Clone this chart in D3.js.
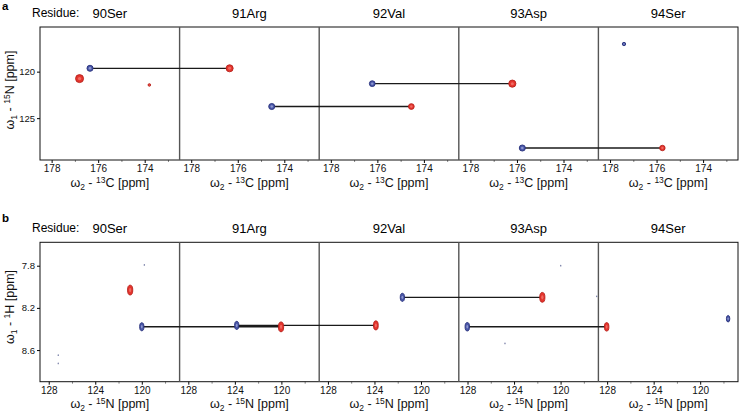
<!DOCTYPE html>
<html><head><meta charset="utf-8">
<script src="https://cdn.jsdelivr.net/npm/d3@7"></script>
<style>body{margin:0;background:#fff}svg{display:block;font-family:"Liberation Sans",Arial,Helvetica,sans-serif}</style>
</head><body><script>
// ---------- data ----------
const residues = ["90Ser", "91Arg", "92Val", "93Asp", "94Ser"];
const panelLetters = ["a", "b"];
const cTicks = [178, 176, 174];
const cMinor = [177, 175, 173];
const nTicksTop = [120, 125];
const nTicksBottom = [128, 124, 120];
const nMinorBottom = [126, 122, 118];
const hTicks = [7.8, 8.2, 8.6];

// panel a : 13C (w2) vs 15N (w1); red = HNCO, blue = HN(CA)CO
// [strip, 13C ppm, 15N ppm, intensity]
const redA = [[0, 176.8, 120.75, 1.0], [0, 173.8, 121.43, 0.32], [1, 176.35, 119.64, 0.88],
              [2, 174.54, 123.75, 0.72], [3, 176.2, 121.29, 0.9], [4, 175.75, 128.21, 0.68]];
const blueA = [[0, 176.35, 119.64, 0.76], [1, 174.54, 123.75, 0.76], [2, 176.22, 121.29, 0.72],
               [3, 175.77, 128.21, 0.76], [4, 177.4, 117.03, 0.42]];
// connectivity: blue peak index -> red peak index
const linksA = [[0, 2], [1, 3], [2, 4], [3, 5]];

// panel b : 15N (w2) vs 1H (w1)
const redB = [[0, 121.0, 8.031, 1.0], [1, 120.03, 8.38, 1.0], [2, 123.88, 8.366, 0.92],
              [3, 121.57, 8.10, 1.0], [4, 128.04, 8.38, 0.86]];
const blueB = [[0, 120.0, 8.379, 0.82], [1, 123.84, 8.366, 0.82], [2, 121.6, 8.10, 0.82],
               [3, 128.02, 8.379, 0.86], [4, 117.6, 8.303, 0.66]];
const linksB = [[0, 1], [1, 2], [2, 3], [3, 4]];
// weak noise features [strip, 15N, 1H]
const noiseB = [[0, 119.78, 7.793], [0, 127.18, 8.648], [0, 127.18, 8.727],
                [3, 119.99, 7.80], [3, 124.78, 8.537], [3, 116.9, 8.09]];

// ---------- layout ----------
const W = 739, H = 415;
const svg = d3.select("body").append("svg").attr("width", W).attr("height", H);
const L = 40, R = 738;
const band = d3.scaleBand().domain(d3.range(residues.length)).range([L, R]);
const sw = band.bandwidth();

const panels = [
  {top: 27, bottom: 160, xdom: [178.5, 172.5], ydom: [115.2, 129.5],
   xticks: cTicks, xminor: cMinor, yticks: nTicksTop, yfmt: d3.format("d"),
   red: redA, blue: blueA, links: linksA, noise: [],
   letterY: 10, headY: 18, titleY: 187, ytitleY: 90,
   xlab: ["ω", "2", " - ", "13", "C [ppm]"], ylab: ["ω", "1", " - ", "15", "N [ppm]"],
   aspect: 1.0},
  {top: 242.3, bottom: 381.7, xdom: [128.75, 116.75], ydom: [7.578, 8.9],
   xticks: nTicksBottom, xminor: nMinorBottom, yticks: hTicks, yfmt: d3.format(".1f"),
   red: redB, blue: blueB, links: linksB, noise: noiseB,
   letterY: 222, headY: 233, titleY: 408, ytitleY: 307,
   xlab: ["ω", "2", " - ", "15", "N [ppm]"], ylab: ["ω", "1", " - ", "1", "H [ppm]"],
   aspect: 1.9}
];

const colors = {
  red: {fill: "#e5342d", stroke: "#b5221c", inner: "#f06a62"},
  blue: {fill: "#4a57a8", stroke: "#27307a", inner: "#8d97cf"}
};

function labelText(sel, parts, big, small) {
  sel.append("tspan").text(parts[0]).attr("font-size", big);
  sel.append("tspan").text(parts[1]).attr("font-size", small).attr("dy", 3);
  sel.append("tspan").text(parts[2]).attr("font-size", big).attr("dy", -3);
  sel.append("tspan").text(parts[3]).attr("font-size", small).attr("dy", -4);
  sel.append("tspan").text(parts[4]).attr("font-size", big).attr("dy", 4);
}

panels.forEach((p, pi) => {
  const g = svg.append("g");
  const y = d3.scaleLinear().domain(p.ydom).range([p.top, p.bottom]);
  const xs = residues.map((_, i) => d3.scaleLinear().domain(p.xdom).range([band(i), band(i) + sw]));

  // panel letter & header
  g.append("text").attr("x", 2).attr("y", p.letterY).attr("font-weight", "bold")
    .attr("font-size", 11.5).text(panelLetters[pi]);
  g.append("text").attr("x", 32).attr("y", p.headY - 1).attr("font-size", 12).text("Residue:");
  residues.forEach((r, i) => {
    g.append("text").attr("x", band(i) + sw / 2).attr("y", p.headY).attr("text-anchor", "middle")
      .attr("font-size", 13).text(r);
  });

  // x axes per strip
  xs.forEach((x, i) => {
    const ax = g.append("g").attr("transform", `translate(0,${p.bottom})`)
      .call(d3.axisBottom(x).tickValues(p.xticks).tickSize(3).tickPadding(2).tickFormat(d3.format("d")));
    ax.select(".domain").remove();
    ax.selectAll("text").attr("font-size", 10).attr("font-family", "Liberation Sans, Arial, sans-serif").attr("fill", "#111");
    const mi = g.append("g").attr("transform", `translate(0,${p.bottom})`)
      .call(d3.axisBottom(x).tickValues(p.xminor).tickSize(2).tickFormat(""));
    mi.select(".domain").remove();
    mi.selectAll("line").attr("stroke", "#888");
    const t = g.append("text").attr("x", band(i) + sw / 2).attr("y", p.titleY)
      .attr("text-anchor", "middle").attr("fill", "#111");
    labelText(t, p.xlab, 12.5, 8.5);
  });

  // y axis
  const ay = g.append("g").attr("transform", `translate(${L},0)`)
    .call(d3.axisLeft(y).tickValues(p.yticks).tickSize(3).tickPadding(2).tickFormat(p.yfmt));
  ay.select(".domain").remove();
  ay.selectAll("text").attr("font-size", 9.5).attr("font-family", "Liberation Sans, Arial, sans-serif").attr("fill", "#111");
  const yt = g.append("text").attr("transform", `translate(14,${p.ytitleY}) rotate(-90)`)
    .attr("text-anchor", "middle").attr("fill", "#111");
  labelText(yt, p.ylab, 12.5, 8.5);

  // frame and strip separators
  g.append("rect").attr("x", L).attr("y", p.top).attr("width", R - L).attr("height", p.bottom - p.top)
    .attr("fill", "none").attr("stroke", "#111").attr("stroke-width", 1);
  d3.range(1, residues.length).forEach(i => {
    g.append("line").attr("x1", band(i)).attr("x2", band(i)).attr("y1", p.top).attr("y2", p.bottom)
      .attr("stroke", "#555").attr("stroke-width", 1.4);
  });

  // noise
  p.noise.forEach(d => {
    g.append("ellipse").attr("cx", xs[d[0]](d[1])).attr("cy", y(d[2])).attr("rx", 0.7).attr("ry", 0.9)
      .attr("fill", "#7a80a8");
  });

  // connectivity lines
  p.links.forEach(([bi, ri]) => {
    const b = p.blue[bi], r = p.red[ri];
    g.append("line").attr("x1", xs[b[0]](b[1])).attr("x2", xs[r[0]](r[1]))
      .attr("y1", y(b[2])).attr("y2", y(b[2])).attr("stroke", "#1a1a1a").attr("stroke-width", 1.3);
  });

  // peaks
  const rmax = 4.0;
  function drawPeaks(data, c) {
    data.forEach(d => {
      const cx = xs[d[0]](d[1]), cy = y(d[2]);
      const rx = (pi === 0 ? rmax : 2.6) * d[3];
      const ry = rx * p.aspect;
      g.append("ellipse").attr("cx", cx).attr("cy", cy).attr("rx", rx).attr("ry", ry)
        .attr("fill", c.fill).attr("stroke", c.stroke).attr("stroke-width", 0.9);
      g.append("ellipse").attr("cx", cx).attr("cy", cy).attr("rx", rx * 0.42).attr("ry", ry * 0.42)
        .attr("fill", c.inner);
    });
  }
  drawPeaks(p.red, colors.red);
  drawPeaks(p.blue, colors.blue);
});
</script></body></html>
